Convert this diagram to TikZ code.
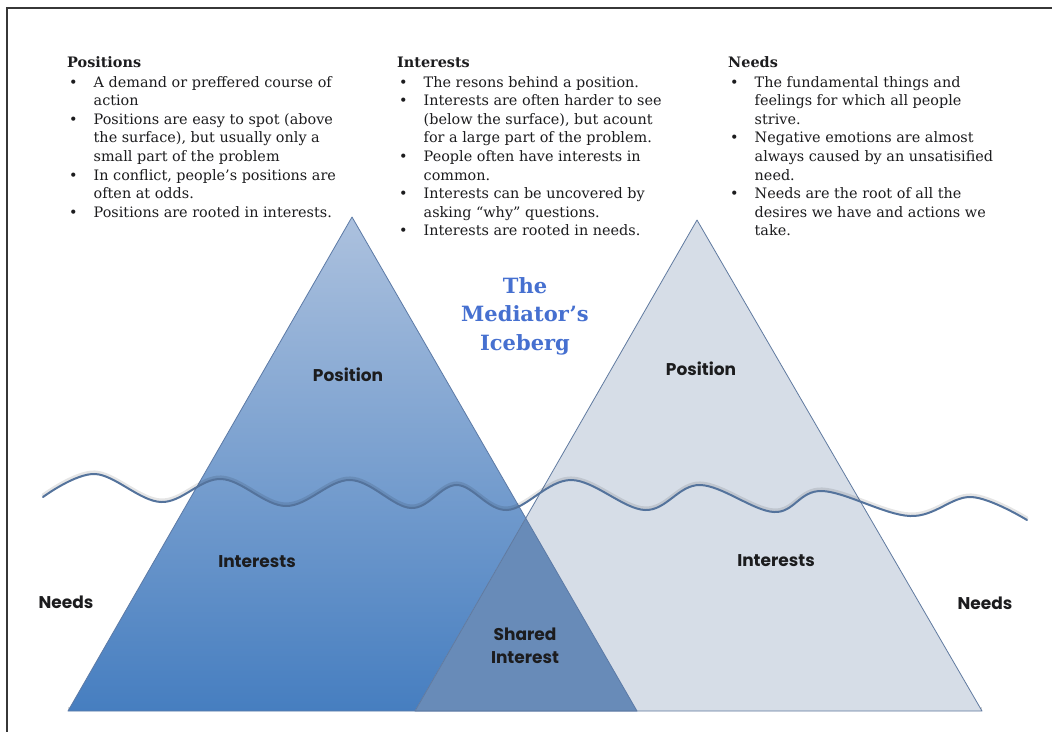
\documentclass[tikz,border=0pt]{standalone}
\usepackage{fontspec}
\setmainfont{DejaVu Serif}
\newfontfamily\labelfont{Poppins}

\definecolor{inktext}{RGB}{28,28,30}
\definecolor{titleblue}{RGB}{70,112,208}
\definecolor{icetop}{RGB}{172,193,222}
\definecolor{icebottom}{RGB}{70,126,192}
\definecolor{iceedge}{RGB}{92,122,166}
\definecolor{paleice}{RGB}{214,221,231}
\definecolor{paleedge}{RGB}{96,122,160}
\definecolor{sharedice}{RGB}{104,139,184}
\definecolor{waveblue}{RGB}{84,115,156}
\definecolor{framegray}{RGB}{55,55,55}

% bullet with its hanging indent
\newcommand{\icebullet}{\makebox[26.5pt][l]{\hspace{2pt}\textbullet}}
\newcommand{\iceindent}{\hspace{26.5pt}}

\tikzset{
  notes/.style={anchor=base west, inner sep=0pt, text=inktext,
    font=\fontsize{14.4}{18.6}\selectfont},
  bergtitle/.style={anchor=base, inner sep=0pt, text=titleblue,
    font=\bfseries\fontsize{21}{28.5}\selectfont},
  berglabel/.style={inner sep=0pt, text=inktext,
    font=\labelfont\bfseries\fontsize{17}{23}\selectfont},
  framerule/.style={draw=framegray, line width=1.8pt},
}

\begin{document}
\begin{tikzpicture}[x=1pt,y=-1pt]
\useasboundingbox (0,0) rectangle (1052,732);
\fill[white] (0,0) rectangle (1052,732);

% page frame (top and left rules)
\coordinate (frameTL) at (7,8);
\coordinate (frameTR) at (1052,8);
\coordinate (frameBL) at (7,732);
\draw[framerule] (frameTR) -- (frameTL) -- (frameBL);

% the two icebergs
\coordinate (lApex) at (352,217);
\coordinate (lLeft) at (68,711);
\coordinate (lRight) at (637,711);
\coordinate (rApex) at (697,220);
\coordinate (rLeft) at (415,711);
\coordinate (rRight) at (982,711);

% soft shadow under the bases
\draw[black, opacity=0.15, line width=3pt] ([yshift=2.5pt]lLeft) -- ([yshift=2.5pt]rRight);

\shade[top color=icetop, bottom color=icebottom] (lApex) -- (lLeft) -- (lRight) -- cycle;
\fill[paleice] (rApex) -- (rLeft) -- (rRight) -- cycle;
\begin{scope}
  \clip (lApex) -- (lLeft) -- (lRight) -- cycle;
  \fill[sharedice] (rApex) -- (rLeft) -- (rRight) -- cycle;
\end{scope}
\draw[iceedge, line width=0.8pt, line join=round] (lApex) -- (lLeft) -- (lRight) -- cycle;
\draw[paleedge, line width=0.8pt, line join=round] (rApex) -- (rLeft) -- (rRight) -- cycle;

% water line
\def\wavepts{(43,497) (95,474) (161,502) (221,479) (286,506) (350,480) (411,508)
  (457,485) (507,510) (571,480) (645,510) (700,485) (774,512) (822,491)
  (910,516) (971,497) (1027,520)}
\draw[black, opacity=0.1, line width=3.5pt, line cap=round, yshift=1.8pt]
  plot[smooth, tension=0.6] coordinates {\wavepts};
\draw[waveblue, line width=2pt, line cap=round]
  plot[smooth, tension=0.6] coordinates {\wavepts};

% explanatory notes
\node[notes] (posNotes) at (67,67) {\begin{tabular}[t]{@{}l@{}}
\textbf{Positions}\\[1.4pt]
\icebullet A demand or preffered course of\\
\iceindent action\\
\icebullet Positions are easy to spot (above\\
\iceindent the surface), but usually only a\\
\iceindent small part of the problem\\
\icebullet In conflict, people’s positions are\\
\iceindent often at odds.\\
\icebullet Positions are rooted in interests.
\end{tabular}};

\node[notes] (intNotes) at (397,67) {\begin{tabular}[t]{@{}l@{}}
\textbf{Interests}\\[1.4pt]
\icebullet The resons behind a position.\\
\icebullet Interests are often harder to see\\
\iceindent (below the surface), but acount\\
\iceindent for a large part of the problem.\\
\icebullet People often have interests in\\
\iceindent common.\\
\icebullet Interests can be uncovered by\\
\iceindent asking “why” questions.\\
\icebullet Interests are rooted in needs.
\end{tabular}};

\node[notes] (needNotes) at (728,67) {\begin{tabular}[t]{@{}l@{}}
\textbf{Needs}\\[1.4pt]
\icebullet The fundamental things and\\
\iceindent feelings for which all people\\
\iceindent strive.\\
\icebullet Negative emotions are almost\\
\iceindent always caused by an unsatisified\\
\iceindent need.\\
\icebullet Needs are the root of all the\\
\iceindent desires we have and actions we\\
\iceindent take.
\end{tabular}};

% title
\node[bergtitle] (title) at (525,293) {\begin{tabular}[t]{@{}c@{}}
The\\ Mediator’s\\ Iceberg
\end{tabular}};

% level labels
\node[berglabel] (posLeft) at (348,375) {Position};
\node[berglabel] (intLeft) at (257,562) {Interests};
\node[berglabel] (needLeft) at (66,602) {Needs};
\node[berglabel] (posRight) at (701,369) {Position};
\node[berglabel] (intRight) at (776,561) {Interests};
\node[berglabel] (needRight) at (985,603) {Needs};
\node[berglabel] (shared) at (525,647) {\begin{tabular}{@{}c@{}}
Shared\\ Interest
\end{tabular}};
\end{tikzpicture}
\end{document}
